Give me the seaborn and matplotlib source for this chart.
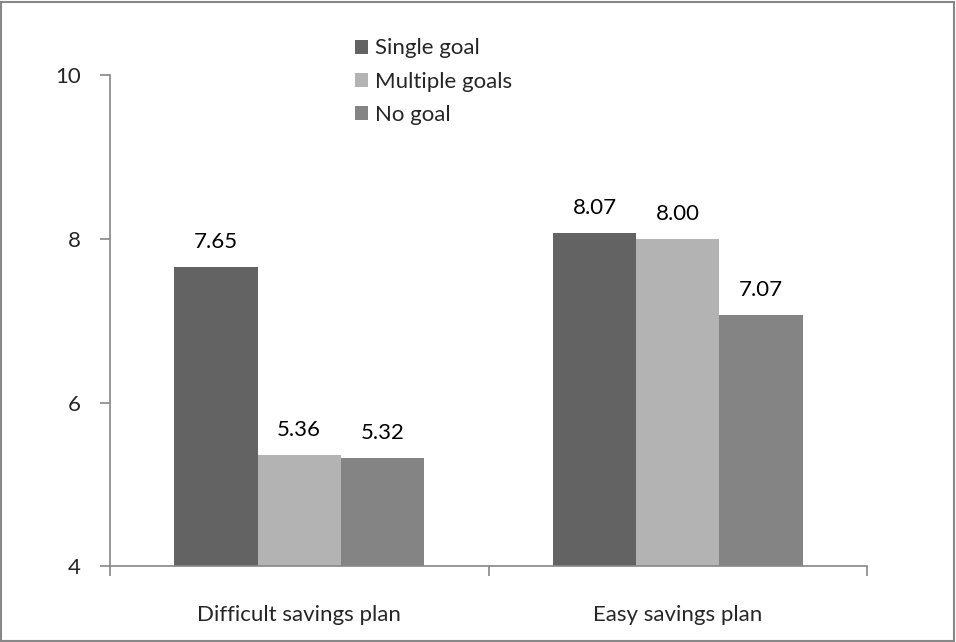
import matplotlib
matplotlib.use("Agg")
import matplotlib.pyplot as plt
import seaborn as sns
import pandas as pd
from matplotlib.patches import Rectangle

plans = ["Difficult savings plan", "Easy savings plan"]
goals = ["Single goal", "Multiple goals", "No goal"]
single_goal = [7.65, 8.07]
multiple_goals = [5.36, 8.00]
no_goal = [5.32, 7.07]
colors = ["#636363", "#b3b3b3", "#848484"]

df = pd.DataFrame({
    "plan": plans * 3,
    "goal": [goals[0]] * 2 + [goals[1]] * 2 + [goals[2]] * 2,
    "value": single_goal + multiple_goals + no_goal,
})

sns.set_style("white")
plt.rcParams['font.family'] = ['Lato', 'DejaVu Sans']

fig = plt.figure(figsize=(9.56, 6.42), dpi=100)
ax = fig.add_axes([0.115, 0.118, 0.792, 0.765])

sns.barplot(data=df, x="plan", y="value", hue="goal", hue_order=goals,
            palette=colors, width=0.66, gap=0, saturation=1, ax=ax,
            linewidth=0, legend=True)

for c in ax.containers:
    ax.bar_label(c, fmt="%.2f", padding=11, fontsize=16, color="#000000")

ax.set_ylim(4, 10)
ax.set_yticks([4, 6, 8, 10])
ax.set_xlim(-0.5, 1.5)
ax.set_xticks([-0.5, 0.5, 1.5], minor=True)
ax.tick_params(axis="x", which="major", bottom=False, length=0, labelsize=16, pad=28)
ax.tick_params(axis="x", which="minor", bottom=True, length=7, width=1.2,
               color="#868686", direction="out")
ax.tick_params(axis="y", which="major", left=True, length=7, width=1.2, color="#868686",
               direction="out", labelsize=16, pad=14)
ax.set_xlabel("")
ax.set_ylabel("")
for s in ["top", "right"]:
    ax.spines[s].set_visible(False)
for s in ["left", "bottom"]:
    ax.spines[s].set_color("#868686")
    ax.spines[s].set_linewidth(1.2)

handles, labels = ax.get_legend_handles_labels()
ax.get_legend().remove()
fig.legend(handles, labels, loc="upper left", bbox_to_anchor=(0.362, 0.954),
           frameon=False, fontsize=16, handlelength=0.6, handleheight=0.6,
           handletextpad=0.3, labelspacing=0.6, borderaxespad=0)

fig.patches.append(Rectangle((0.001, 0.001), 0.997, 0.996, transform=fig.transFigure,
                             fill=False, edgecolor="#888888", linewidth=1.5))

fig.savefig("out.png", dpi=100)
